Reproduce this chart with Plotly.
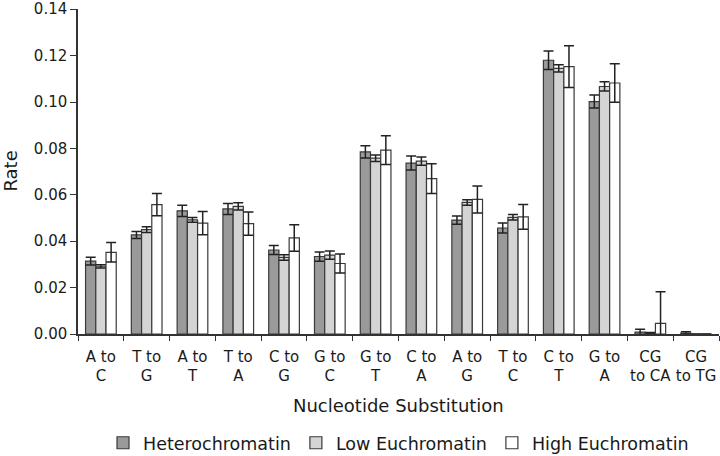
import plotly.graph_objects as go

categories = ["A to<br>C", "T to<br>G", "A to<br>T", "T to<br>A", "C to<br>G", "G to<br>C",
              "G to<br>T", "C to<br>A", "A to<br>G", "T to<br>C", "C to<br>T", "G to<br>A",
              "CG<br>to CA", "CG<br>to TG"]

het = [0.0314, 0.0427, 0.0531, 0.0539, 0.0362, 0.0334, 0.0785, 0.0737, 0.0491, 0.0457, 0.1180, 0.1002, 0.0008, 0.0004]
het_err = [0.0017, 0.0015, 0.0024, 0.0024, 0.0019, 0.0020, 0.0026, 0.0030, 0.0018, 0.0022, 0.0040, 0.0028, 0.0013, 0.0006]
low = [0.0292, 0.0450, 0.0492, 0.0550, 0.0330, 0.0340, 0.0758, 0.0745, 0.0567, 0.0503, 0.1145, 0.1067, 0.0003, 0.0]
low_err = [0.0007, 0.0012, 0.0010, 0.0016, 0.0012, 0.0018, 0.0014, 0.0018, 0.0012, 0.0012, 0.0016, 0.0020, 0.0004, None]
high = [0.0352, 0.0558, 0.0478, 0.0476, 0.0414, 0.0304, 0.0793, 0.0670, 0.0580, 0.0505, 0.1153, 0.1082, 0.0046, 0.0]
high_err = [0.0042, 0.0048, 0.0050, 0.0050, 0.0057, 0.0041, 0.0062, 0.0064, 0.0058, 0.0053, 0.0090, 0.0083, 0.0136, None]

y_ticks = [0.00, 0.02, 0.04, 0.06, 0.08, 0.10, 0.12, 0.14]

series = [
    ("Heterochromatin", het, het_err, "#9a9a9a"),
    ("Low Euchromatin", low, low_err, "#d4d4d4"),
    ("High Euchromatin", high, high_err, "#ffffff"),
]

FONT = "DejaVu Sans"
fig = go.Figure()
for name, vals, errs, col in series:
    fig.add_trace(go.Bar(
        name=name, x=categories, y=vals,
        marker=dict(color=col, line=dict(color="#3a3a3a", width=1.2)),
        error_y=dict(type="data", array=errs, visible=True, color="#222222", thickness=1.5, width=5),
    ))

fig.update_layout(
    width=720, height=456,
    margin=dict(l=78, r=1, t=9, b=122, autoexpand=False),
    paper_bgcolor="white", plot_bgcolor="white",
    barmode="group", bargap=0.33, bargroupgap=0,
    font=dict(family=FONT, color="#1a1a1a"),
    showlegend=True,
    legend=dict(orientation="h", x=0.5, xanchor="center", y=-0.335, yanchor="middle",
                font=dict(size=17.5, family=FONT), itemwidth=30, traceorder="normal"),
    xaxis=dict(
        showline=True, linecolor="#333333", linewidth=1.5,
        ticks="outside", ticklen=5, tickcolor="#333333", tickwidth=1.2,
        tickson="boundaries", tickangle=0, automargin=False, ticklabelstandoff=8,
        tickfont=dict(size=15, family=FONT),
        showgrid=False,
    ),
    yaxis=dict(
        range=[0, 0.1401], tickvals=y_ticks, tickformat=".2f", automargin=False,
        ticklabeloverflow="allow",
        showline=True, linecolor="#333333", linewidth=1.5,
        ticks="outside", ticklen=6, tickcolor="#333333", tickwidth=1.2,
        tickfont=dict(size=15, family=FONT),
        showgrid=False, zeroline=False,
    ),
    annotations=[
        dict(text="Nucleotide Substitution", xref="paper", yref="paper", x=0.5, y=-0.2215,
             xanchor="center", yanchor="middle", showarrow=False, font=dict(size=18, family=FONT)),
        dict(text="Rate", xref="paper", yref="paper", x=-0.106, y=0.5, textangle=-90,
             xanchor="center", yanchor="middle", showarrow=False, font=dict(size=18, family=FONT)),
    ],
)

fig.write_html("out.html", config={"displayModeBar": False},
               post_script="document.body.style.margin='0';document.body.style.overflow='hidden';")
